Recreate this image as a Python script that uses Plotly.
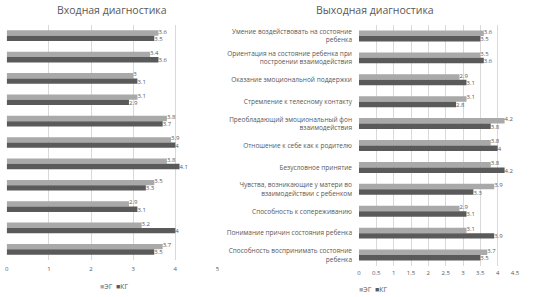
import plotly.graph_objects as go

W, H = 533, 297

left_vals_eg = [3.6, 3.4, 3.0, 3.1, 3.8, 3.9, 3.8, 3.5, 2.9, 3.2, 3.7]
left_vals_kg = [3.5, 3.6, 3.1, 2.9, 3.7, 4.0, 4.1, 3.3, 3.1, 4.0, 3.5]

categories = [
    "Умение воздействовать на состояние<br>ребенка",
    "Ориентация на состояние ребенка при<br>построении взаимодействия",
    "Оказание эмоциональной поддержки",
    "Стремление к телесному контакту",
    "Преобладающий эмоциональный фон<br>взаимодействия",
    "Отношение к себе как к родителю",
    "Безусловное принятие",
    "Чувства, возникающие у матери во<br>взаимодействии с ребенком",
    "Способность к сопереживанию",
    "Понимание причин состояния ребенка",
    "Способность воспринимать состояние<br>ребенка",
]
right_vals_eg = [3.6, 3.5, 2.9, 3.1, 4.2, 3.8, 3.8, 3.9, 2.9, 3.1, 3.7]
right_vals_kg = [3.5, 3.6, 3.1, 2.8, 3.8, 4.0, 4.2, 3.3, 3.1, 3.9, 3.5]

series_names = ["ЭГ", "КГ"]
left_ticks = [0, 1, 2, 3, 4, 5]
right_ticks = [0, 0.5, 1, 1.5, 2, 2.5, 3, 3.5, 4, 4.5]

C_LIGHT = "#a9a9a9"
C_DARK = "#5a5a5a"
TXT = "#595959"
FONT = "Open Sans"

ids = list(range(len(categories)))
LABEL_SHIFT = 0.17  # vertical stagger of data labels, in category units

def fmt(v):
    return ("%g" % v)

fig = go.Figure()
panels = [
    ("x", "y", left_vals_eg, left_vals_kg),
    ("x2", "y2", right_vals_eg, right_vals_kg),
]
for xa, ya, eg, kg in panels:
    for k, (name, vals, col) in enumerate([(series_names[0], eg, C_LIGHT), (series_names[1], kg, C_DARK)]):
        fig.add_trace(go.Bar(
            x=vals, y=ids, orientation="h", name=name, marker_color=col,
            xaxis=xa, yaxis=ya, showlegend=False,
        ))
        sgn = -1 if k == 0 else 1
        fig.add_trace(go.Scatter(
            x=vals, y=[i + sgn * LABEL_SHIFT for i in ids], mode="text",
            text=[fmt(v) for v in vals], textposition="middle right",
            textfont=dict(size=6, color=TXT, family=FONT), cliponaxis=False,
            xaxis=xa, yaxis=ya, showlegend=False, hoverinfo="skip",
        ))

def px_x(p):
    return p / W

def px_y(p):
    return 1 - p / H

def legend_text():
    return ("<span style='color:%s'>■</span>%s  <span style='color:%s'>■</span>%s"
            % (C_LIGHT, series_names[0], C_DARK, series_names[1]))

fig.update_layout(
    template="none",
    width=W, height=H,
    margin=dict(l=0, r=0, t=0, b=0, autoexpand=False),
    paper_bgcolor="white", plot_bgcolor="white",
    font=dict(family=FONT, color=TXT, size=7),
    barmode="group", bargap=0.5, bargroupgap=0,
    showlegend=False,
    xaxis=dict(domain=[px_x(6.7), px_x(217.5)], range=[0, 5], tickvals=left_ticks,
               showgrid=True, gridcolor="#d9d9d9", gridwidth=1, zeroline=False,
               showline=False, ticks="", tickfont=dict(size=6, color=TXT),
               ticklabelstandoff=4,
               anchor="y", fixedrange=True),
    yaxis=dict(domain=[px_y(260), px_y(25)], range=[10.5, -0.5], tickvals=ids,
               showticklabels=False, showgrid=False, zeroline=False, showline=False,
               ticks="", anchor="x", fixedrange=True),
    xaxis2=dict(domain=[px_x(359), px_x(515)], range=[0, 4.5], tickvals=right_ticks,
                showgrid=True, gridcolor="#d9d9d9", gridwidth=1, zeroline=False,
                showline=False, ticks="", tickfont=dict(size=6, color=TXT),
                ticklabelstandoff=2,
                anchor="y2", fixedrange=True),
    yaxis2=dict(domain=[px_y(266), px_y(25)], range=[10.5, -0.5], tickvals=ids,
                ticktext=categories, tickfont=dict(size=6.5, color=TXT),
                showgrid=False, zeroline=False, showline=False, ticks="",
                ticklabelstandoff=6,
                anchor="x2", fixedrange=True),
    annotations=[
        dict(text="Входная диагностика", x=px_x(112), y=px_y(10), xref="paper", yref="paper",
             showarrow=False, font=dict(size=10.5, color=TXT, family=FONT), xanchor="center", yanchor="middle"),
        dict(text="Выходная диагностика", x=px_x(375), y=px_y(10), xref="paper", yref="paper",
             showarrow=False, font=dict(size=10.5, color=TXT, family=FONT), xanchor="center", yanchor="middle"),
        dict(text=legend_text(), x=px_x(114), y=px_y(286), xref="paper", yref="paper",
             showarrow=False, font=dict(size=7, color=TXT, family=FONT), xanchor="center", yanchor="middle"),
        dict(text=legend_text(), x=px_x(357), y=px_y(289), xref="paper", yref="paper",
             showarrow=False, font=dict(size=7, color=TXT, family=FONT), xanchor="left", yanchor="middle"),
    ],
)

fig.write_html("out.html", config={"displayModeBar": False},
               post_script="document.body.style.margin='0';document.body.style.overflow='hidden';")
